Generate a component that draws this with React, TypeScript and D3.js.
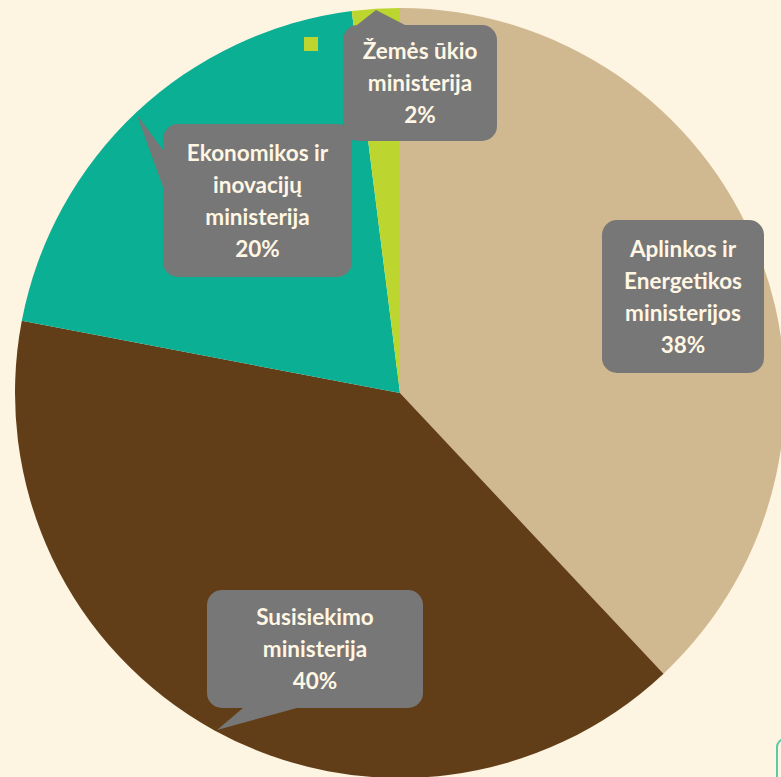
import React from "react";
import * as d3 from "d3";

const categories = [
  "Aplinkos ir Energetikos ministerijos",
  "Susisiekimo ministerija",
  "Ekonomikos ir inovacijų ministerija",
  "Žemės ūkio ministerija",
];
const values = [38, 40, 20, 2];
const labelLines = [
  ["Aplinkos ir", "Energetikos", "ministerijos"],
  ["Susisiekimo", "ministerija"],
  ["Ekonomikos ir", "inovacijų", "ministerija"],
  ["Žemės ūkio", "ministerija"],
];
const colors = ["#D0B891", "#623E18", "#0AAF94", "#BDD62F"];

// callout layout: box + optional tail
const callouts = [
  { x: 602, y: 220, w: 162, h: 153, tail: null },
  { x: 207, y: 590, w: 216, h: 118, tail: [[243, 708], [217, 730], [297, 708]] },
  { x: 163, y: 124, w: 189, h: 153, tail: [[163, 150], [137, 115], [163, 187]] },
  { x: 343, y: 25, w: 154, h: 116, tail: [[357, 25], [376, 10], [405, 25]] },
];

const W = 781;
const H = 777;
const cx = 400;
const cy = 393;
const R = 385;
const lineH = 32;
const fontSize = 22.5;

export default function App() {
  const pie = d3.pie<number>().sort(null).value((d) => d).startAngle(0).endAngle(2 * Math.PI);
  const arcs = pie(values);
  const arcGen = d3.arc<d3.PieArcDatum<number>>().innerRadius(0).outerRadius(R);
  const total = d3.sum(values);

  return (
    <svg
      width={W}
      height={H}
      style={{ position: "fixed", left: 0, top: 0, display: "block" }}
      fontFamily="Lato, 'Open Sans', sans-serif"
    >
      <rect x={0} y={0} width={W} height={H} fill="#FDF4E1" />
      <g transform={`translate(${cx},${cy})`}>
        {arcs.map((a, i) => (
          <path key={categories[i]} d={arcGen(a) || ""} fill={colors[i]} />
        ))}
      </g>
      <rect x={304} y={37} width={14} height={14} fill={colors[3]} />
      {callouts.map((c, i) => {
        const lines = [...labelLines[i], `${Math.round((values[i] / total) * 100)}%`];
        const n = lines.length;
        const midY = c.y + c.h / 2;
        const firstBaseline = midY - ((n - 1) * lineH) / 2 + fontSize * 0.36;
        return (
          <g key={"c" + i}>
            {c.tail && (
              <path
                d={d3.line()(c.tail as [number, number][]) + "Z"}
                fill="#777777"
              />
            )}
            <rect x={c.x} y={c.y} width={c.w} height={c.h} rx={15} ry={15} fill="#777777" />
            <text
              textAnchor="middle"
              fill="#FFF6E3"
              fontWeight={700}
              fontSize={fontSize}
            >
              {lines.map((l, j) => (
                <tspan key={j} x={c.x + c.w / 2} y={firstBaseline + j * lineH}>
                  {l}
                </tspan>
              ))}
            </text>
          </g>
        );
      })}
      <rect x={777} y={739} width={40} height={60} rx={8} fill="none" stroke="#5CC9A9" strokeWidth={2} />
    </svg>
  );
}
